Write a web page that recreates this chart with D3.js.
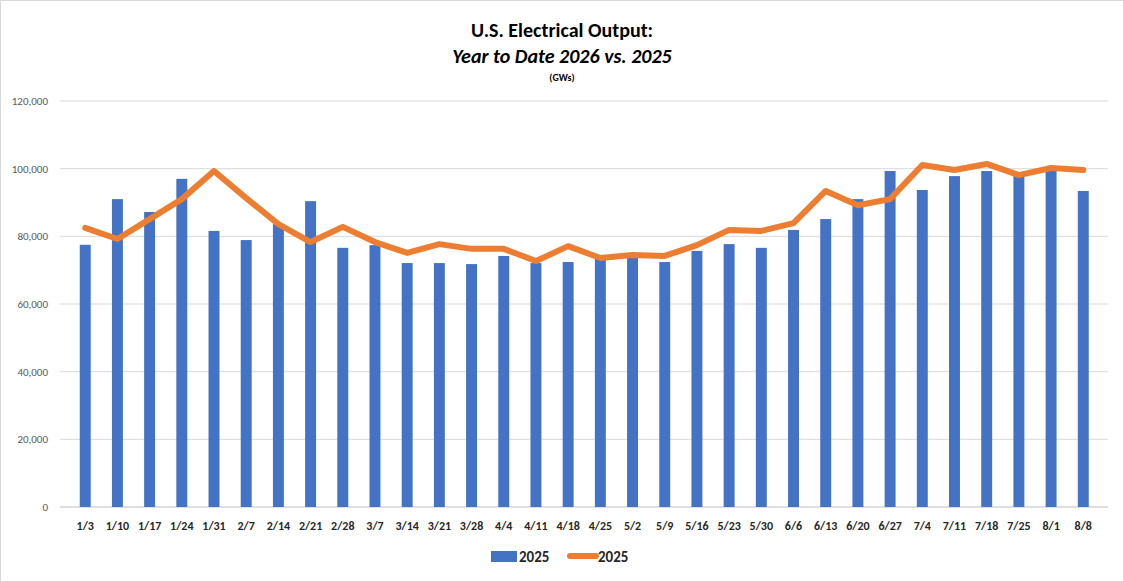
<!DOCTYPE html><html><head><meta charset="utf-8"><script src="https://cdn.jsdelivr.net/npm/d3@7"></script>
<style>body{margin:0;background:#fff;font-family:Calibri,Carlito,"Liberation Sans",Arial,sans-serif}</style></head><body>
<svg id="c" width="1124" height="582"></svg>
<script>
const categories=["1/3","1/10","1/17","1/24","1/31","2/7","2/14","2/21","2/28","3/7","3/14","3/21","3/28","4/4","4/11","4/18","4/25","5/2","5/9","5/16","5/23","5/30","6/6","6/13","6/20","6/27","7/4","7/11","7/18","7/25","8/1","8/8"];
const barValues=[77500,91000,87200,97000,81600,78900,83600,90400,76600,77400,72100,72100,71800,74200,72100,72400,73600,73900,72400,75700,77700,76600,81900,85100,91000,99300,93700,97800,99300,98400,99600,93400];
const lineValues=[82500,79200,85100,91000,99300,91300,83600,78300,82800,78300,75100,77700,76300,76300,72700,77100,73600,74500,74200,77400,81900,81600,83900,93400,89200,91000,101100,99600,101400,98100,100200,99600];
const yTicks=[0,20000,40000,60000,80000,100000,120000];
const svg=d3.select("#c");
svg.append("rect").attr("x",0.5).attr("y",0.5).attr("width",1123).attr("height",581).attr("fill","#fff").attr("stroke","#d9d9d9");
const x=d3.scaleBand().domain(categories).range([58.5,1110]).padding(0.66);
const y=d3.scaleLinear().domain([0,120000]).range([507,101]);
svg.append("g").selectAll("line").data(yTicks).join("line").attr("x1",60).attr("x2",1108).attr("y1",d=>y(d)).attr("y2",d=>y(d)).attr("stroke",(d)=>d===0?"#bfbfbf":"#d9d9d9");
svg.append("g").selectAll("text").data(yTicks).join("text").attr("x",48).attr("y",d=>y(d)+4).attr("text-anchor","end").attr("font-size",11).attr("fill","#595959").text(d3.format(","));
svg.append("g").selectAll("rect").data(barValues).join("rect").attr("x",(d,i)=>x(categories[i])).attr("width",x.bandwidth()).attr("y",d=>y(d)).attr("height",d=>507-y(d)).attr("fill","#4472c4");
const cx=c=>x(c)+x.bandwidth()/2;
svg.append("path").datum(lineValues).attr("fill","none").attr("stroke","#ed7d31").attr("stroke-width",6).attr("stroke-linejoin","round").attr("stroke-linecap","round")
 .attr("d",d3.line().x((d,i)=>cx(categories[i])).y(d=>y(d)));
svg.append("g").selectAll("text").data(categories).join("text").attr("x",d=>cx(d)).attr("y",530).attr("text-anchor","middle").attr("font-size",12).attr("font-weight","bold").attr("fill","#262626").text(d=>d);
svg.append("text").attr("x",562).attr("y",37).attr("text-anchor","middle").attr("font-size",20).attr("font-weight","bold").text("U.S. Electrical Output:");
svg.append("text").attr("x",562).attr("y",63).attr("text-anchor","middle").attr("font-size",20).attr("font-weight","bold").attr("font-style","italic").text("Year to Date 2026 vs. 2025");
svg.append("text").attr("x",562).attr("y",81).attr("text-anchor","middle").attr("font-size",10).attr("font-weight","bold").text("(GWs)");
const lg=svg.append("g");
lg.append("rect").attr("x",491).attr("y",551).attr("width",26).attr("height",11).attr("fill","#4472c4");
lg.append("text").attr("x",519).attr("y",562).attr("font-size",15).attr("font-weight","bold").attr("fill","#262626").text("2025");
lg.append("line").attr("x1",570).attr("x2",596).attr("y1",556).attr("y2",556).attr("stroke","#ed7d31").attr("stroke-width",6).attr("stroke-linecap","round");
lg.append("text").attr("x",598).attr("y",562).attr("font-size",15).attr("font-weight","bold").attr("fill","#262626").text("2025");
</script></body></html>
